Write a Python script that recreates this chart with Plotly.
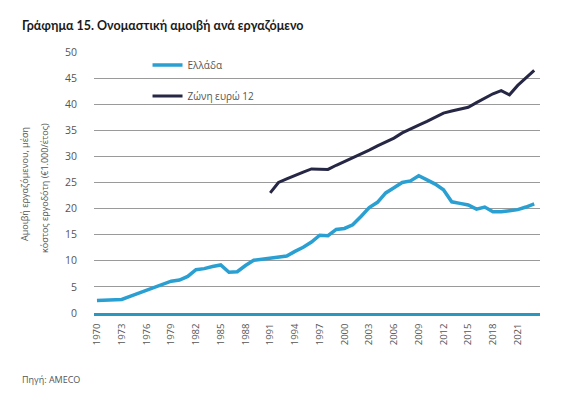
import plotly.graph_objects as go

years_gr = list(range(1970, 2024))
greece = [2.4, 2.5, 2.6, 2.6, 3.2, 3.8, 4.4, 5.0, 5.6, 6.1,
          6.3, 7.0, 8.3, 8.5, 8.9, 9.2, 7.8, 7.9, 9.1, 10.1,
          10.3, 10.5, 10.7, 10.9, 11.8, 12.6, 13.6, 14.9, 14.8, 16.0,
          16.2, 16.9, 18.5, 20.2, 21.2, 23.0, 24.0, 25.0, 25.3, 26.3,
          25.5, 24.7, 23.6, 21.3, 21.0, 20.7, 19.9, 20.3, 19.4, 19.4,
          19.6, 19.8, 20.3, 20.9]

years_ez = list(range(1991, 2024))
eurozone = [23.0, 25.0, 25.7, 26.4, 27.0, 27.6, 27.6, 27.5, 28.3, 29.0,
            29.8, 30.5, 31.2, 32.0, 32.7, 33.5, 34.5, 35.3, 36.0, 36.7,
            37.5, 38.3, 38.7, 39.0, 39.4, 40.3, 41.2, 42.0, 42.6, 41.8,
            43.6, 45.0, 46.5]

x_ticks = list(range(1970, 2022, 3))
y_ticks = list(range(0, 51, 5))

series_names = ["Ελλάδα", "Ζώνη ευρώ 12"]
title_text = "Γράφημα 15. Ονομαστική αμοιβή ανά εργαζόμενο"
y_title_1 = "Αμοιβή εργαζόμενου, μέση"
y_title_2 = "κόστος εργοδότη (€1.000/έτος)"
source_text = "Πηγή: AMECO"

FONT = "Open Sans"
GRAY = "#555555"

# page body has an 8px margin; figure is sized/offset to compensate
PW, PH = 446, 261  # plot area in px
L, T = 86, 44

fig = go.Figure()
fig.add_trace(go.Scatter(x=years_gr, y=greece, mode="lines", name=series_names[0],
                         line=dict(color="#2a9fd2", width=3.5), legend="legend"))
fig.add_trace(go.Scatter(x=years_ez, y=eurozone, mode="lines", name=series_names[1],
                         line=dict(color="#262745", width=3), legend="legend2"))

leg_common = dict(xanchor="left", yanchor="middle", bgcolor="rgba(0,0,0,0)",
                  font=dict(size=10, color=GRAY, family=FONT), itemwidth=30)

fig.update_layout(
    width=567, height=378,
    margin=dict(l=L, r=567 - L - PW, t=T, b=378 - T - PH),
    paper_bgcolor="white", plot_bgcolor="white",
    font=dict(family=FONT, color=GRAY, size=10),
    showlegend=True,
    legend=dict(x=0.12, y=(313 - 65) / PH, **leg_common),
    legend2=dict(x=0.12, y=(313 - 96) / PH, **leg_common),
    xaxis=dict(range=[1969.64, 2023.7], tickmode="array", tickvals=x_ticks,
               ticktext=[str(v) for v in x_ticks], tickangle=-90,
               showgrid=False, zeroline=False, showline=True,
               linecolor="#2b96c0", linewidth=2.5,
               tickfont=dict(size=9.5, color=GRAY), ticks="",
               ticklabelstandoff=4),
    yaxis=dict(range=[0, 50], tickmode="array", tickvals=y_ticks,
               showgrid=True, gridcolor="#9a9a9a", gridwidth=1,
               zeroline=False, showline=False, ticks="",
               tickfont=dict(size=10.5, color=GRAY), ticklabelstandoff=16),
)

fig.add_annotation(text=f"<b>{title_text}</b>", xref="paper", yref="paper",
                   x=-(94 - 20) / PW, y=1 + (52 - 25) / PH, xanchor="left", yanchor="middle",
                   showarrow=False, font=dict(size=12.5, color="#1a1a1a", family="Lato"))
fig.add_annotation(text=y_title_1, xref="paper", yref="paper",
                   x=-(94 - 24) / PW, y=(313 - 184) / PH, xanchor="center", yanchor="middle",
                   textangle=-90, showarrow=False,
                   font=dict(size=9, color=GRAY))
fig.add_annotation(text=y_title_2, xref="paper", yref="paper",
                   x=-(94 - 44) / PW, y=(313 - 188) / PH, xanchor="center", yanchor="middle",
                   textangle=-90, showarrow=False,
                   font=dict(size=9, color=GRAY))
fig.add_annotation(text=source_text, xref="paper", yref="paper",
                   x=-(94 - 20) / PW, y=-(379 - 313) / PH, xanchor="left", yanchor="middle",
                   showarrow=False, font=dict(size=9, color=GRAY))

fig.write_html("out.html")
